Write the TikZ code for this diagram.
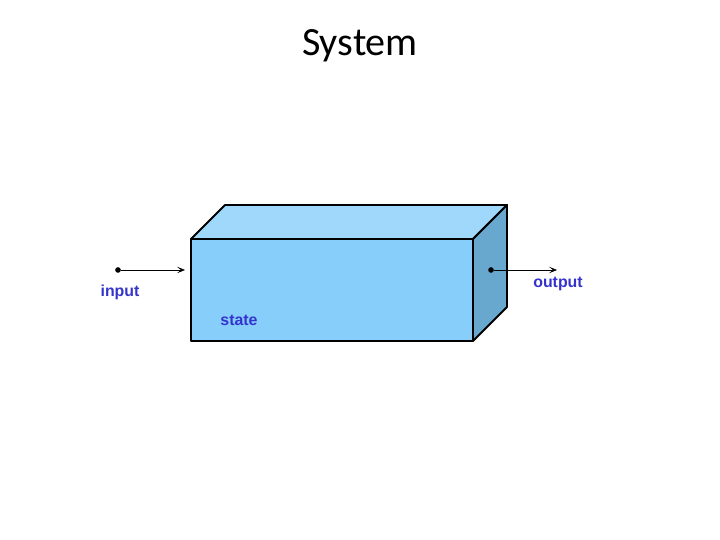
\documentclass[tikz,border=0pt]{standalone}
\usepackage{fontspec}
\setmainfont{Carlito}
\newfontfamily\labelfont{Liberation Sans}
\usetikzlibrary{arrows.meta}
\definecolor{frontblue}{RGB}{135,206,250}
\definecolor{topblue}{RGB}{160,216,252}
\definecolor{sideblue}{RGB}{104,168,206}
\definecolor{labelblue}{RGB}{52,52,204}
\tikzset{
  face/.style={draw=black, line width=1.3pt, line join=round},
  port/.style={circle, fill=black, inner sep=0pt, minimum size=4pt},
  signal/.style={-{Stealth[length=2mm, width=1.6mm, inset=1mm]}, thin},
  tag/.style={text=labelblue, font=\labelfont\bfseries\fontsize{11.3}{13}\selectfont}
}
\begin{document}
\begin{tikzpicture}
    \useasboundingbox (0,0) rectangle (18,13.5);
    % Title
    \node[font=\fontsize{28.5}{34}\selectfont] (title) at (9,12.35) {System};

    % Box corners (front face and back offset)
    \coordinate (fbl) at (4.775,4.975);
    \coordinate (ftr) at (11.825,7.525);
    \coordinate (ftl) at (4.775,7.525);
    \coordinate (fbr) at (11.825,4.975);
    \coordinate (btl) at (5.625,8.375);
    \coordinate (btr) at (12.675,8.375);
    \coordinate (bbr) at (12.675,5.825);

    % Faces of the box
    \draw[face, fill=topblue] (ftl) -- (btl) -- (btr) -- (ftr) -- cycle;
    \draw[face, fill=sideblue] (fbr) -- (ftr) -- (btr) -- (bbr) -- cycle;
    \draw[face, fill=frontblue] (fbl) rectangle (ftr);

    % Input
    \node[port] (in) at (2.95,6.75) {};
    \coordinate (inEnd) at (4.625,6.75);
    \draw[signal] (in) -- (inEnd);
    \node[tag] (inLabel) at (3.0,6.2) {input};

    % Output
    \node[port] (out) at (12.275,6.75) {};
    \coordinate (outEnd) at (13.925,6.75);
    \draw[signal] (out) -- (outEnd);
    \node[tag] (outLabel) at (13.95,6.4) {output};

    % State
    \node[tag] (state) at (5.975,5.5) {state};
\end{tikzpicture}
\end{document}
